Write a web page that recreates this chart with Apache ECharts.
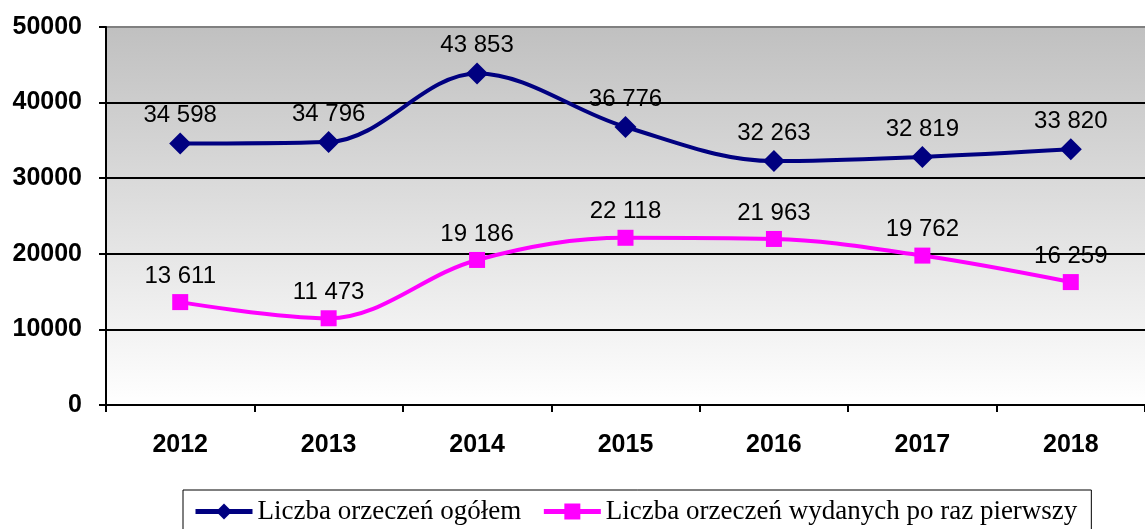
<!DOCTYPE html>
<html>
<head>
<meta charset="utf-8">
<script src="https://cdn.jsdelivr.net/npm/echarts@6/dist/echarts.min.js"></script>
<style>
html,body{margin:0;padding:0;background:#fff;}
#main{width:1145px;height:529px;}
</style>
</head>
<body>
<div id="main"></div>
<script>
var years = ['2012', '2013', '2014', '2015', '2016', '2017', '2018'];
var ogolem = [34598, 34796, 43853, 36776, 32263, 32819, 33820];
var pierwszy = [13611, 11473, 19186, 22118, 21963, 19762, 16259];
var names = ['Liczba orzeczeń ogółem', 'Liczba orzeczeń wydanych po raz pierwszy'];

window.onload = function () {
	var myChart = echarts.init(document.getElementById('main'));
	// liczby z odstępem tysięcy: 34 598
	function fmt(p) {
		return String(p.value).replace(/\B(?=(\d{3})+(?!\d))/g, ' ');
	}
	var option = {
		animation: false,
		grid: {
			left: 106,
			top: 27,
			width: 1050,
			height: 378,
			show: true,
			borderWidth: 0,
			backgroundColor: new echarts.graphic.LinearGradient(0, 0, 0, 1, [
				{offset: 0, color: '#c0c0c0'},
				{offset: 1, color: '#ffffff'}
			])
		},
		legend: {
			data: names,
			left: 183,
			top: 490,
			padding: [8, 14, 14, 10],
			itemGap: 20,
			itemWidth: 57,
			itemHeight: 20,
			borderColor: '#000',
			borderWidth: 1,
			backgroundColor: '#fff',
			lineStyle: {width: 5},
			textStyle: {fontFamily: 'Liberation Serif', fontSize: 27, color: '#000'}
		},
		xAxis: {
			type: 'category',
			data: years,
			boundaryGap: true,
			axisLine: {lineStyle: {color: '#000', width: 2}},
			axisTick: {show: true, length: 7, lineStyle: {color: '#000', width: 2}},
			axisLabel: {margin: 28, fontFamily: 'Liberation Sans', fontSize: 25, fontWeight: 'bold', color: '#000'}
		},
		yAxis: {
			type: 'value',
			min: 0,
			max: 50000,
			interval: 10000,
			axisLine: {show: true, lineStyle: {color: '#000', width: 2}},
			axisTick: {show: true, length: 7, lineStyle: {color: '#000', width: 2}},
			axisLabel: {margin: 24, formatter: function (v) { return String(v); },
				fontFamily: 'Liberation Sans', fontSize: 25, fontWeight: 'bold', color: '#000'},
			splitLine: {lineStyle: {color: ['#000', '#000', '#000', '#000', '#000', '#808080'], width: 2}}
		},
		series: [{
			name: names[0],
			type: 'line',
			data: ogolem,
			smooth: 0.35,
			symbol: 'diamond',
			symbolSize: 22,
			lineStyle: {color: '#000080', width: 4},
			itemStyle: {color: '#000080'},
			label: {show: true, position: 'top', distance: 5, formatter: fmt,
				fontFamily: 'Liberation Sans', fontSize: 24, color: '#000'}
		}, {
			name: names[1],
			type: 'line',
			data: pierwszy,
			smooth: 0.35,
			symbol: 'rect',
			symbolSize: 16,
			lineStyle: {color: '#ff00ff', width: 4},
			itemStyle: {color: '#ff00ff'},
			label: {show: true, position: 'top', distance: 6, formatter: fmt,
				fontFamily: 'Liberation Sans', fontSize: 24, color: '#000'}
		}]
	};
	myChart.setOption(option);
};
</script>
</body>
</html>
